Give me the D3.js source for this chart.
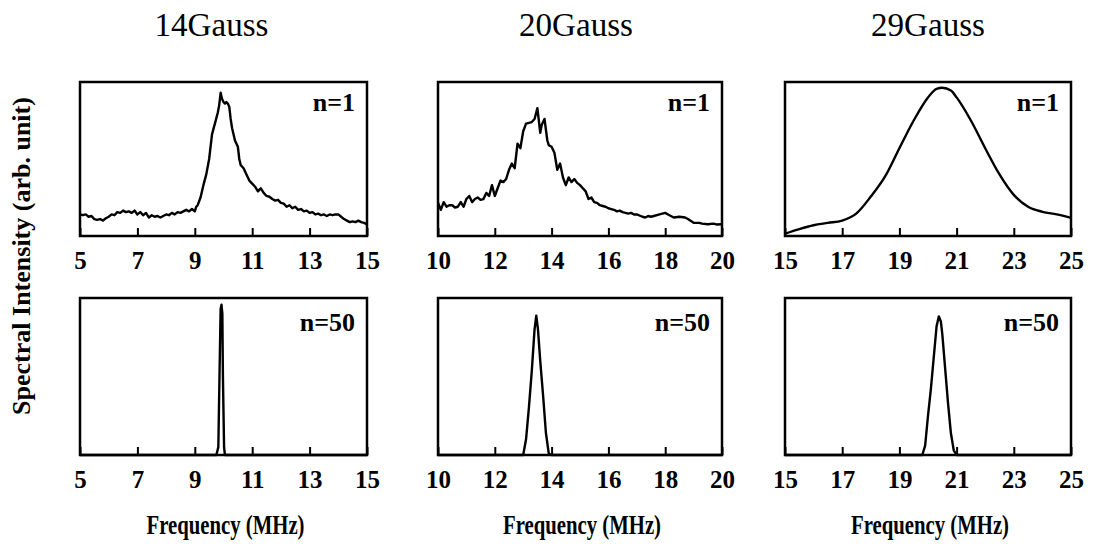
<!DOCTYPE html>
<html>
<head>
<meta charset="utf-8">
<script src="https://cdn.jsdelivr.net/npm/d3@7"></script>
<style>
  html, body { margin: 0; padding: 0; background: #fff; }
  svg { display: block; }
</style>
</head>
<body>
<svg id="chart" width="1093" height="548"></svg>
<script>
// Field labels and axis ranges
const fields = ["14Gauss", "20Gauss", "29Gauss"];
const runs = ["n=1", "n=50"];
const freqRanges = [[5, 15], [10, 20], [15, 25]];
const tickLabels = [
    [5, 7, 9, 11, 13, 15],
    [10, 12, 14, 16, 18, 20],
    [15, 17, 19, 21, 23, 25]
];

// Spectra as [frequency (MHz), intensity (arb.)]
const spec14n1 = [
    [5.0, .14], [5.1, .135], [5.2, .14], [5.3, .125], [5.4, .13], [5.5, .11], [5.6, .105], [5.7, .11],
    [5.8, .10], [5.9, .115], [6.0, .125], [6.1, .14], [6.2, .135], [6.3, .155], [6.4, .15], [6.5, .165],
    [6.6, .155], [6.7, .16], [6.8, .15], [6.9, .165], [7.0, .14], [7.1, .155], [7.2, .135], [7.3, .15],
    [7.4, .12], [7.5, .135], [7.6, .125], [7.7, .13], [7.8, .12], [7.9, .13], [8.0, .14], [8.1, .135],
    [8.2, .15], [8.3, .14], [8.4, .155], [8.5, .15], [8.6, .16], [8.7, .17], [8.8, .16], [8.9, .175],
    [9.0, .16], [9.05, .19], [9.1, .20], [9.2, .25], [9.3, .33], [9.4, .40], [9.5, .50], [9.6, .66],
    [9.7, .73], [9.8, .80], [9.85, .85], [9.9, .93], [9.95, .89], [10.0, .87], [10.05, .86], [10.1, .87],
    [10.15, .86], [10.2, .84], [10.25, .76], [10.3, .70], [10.4, .62], [10.5, .58], [10.55, .50], [10.6, .46],
    [10.7, .44], [10.8, .40], [10.9, .36], [11.0, .34], [11.1, .32], [11.2, .29], [11.3, .31], [11.4, .28],
    [11.5, .26], [11.6, .255], [11.7, .24], [11.8, .23], [11.9, .235], [12.0, .215], [12.1, .21], [12.2, .19],
    [12.3, .20], [12.4, .18], [12.5, .19], [12.6, .17], [12.7, .175], [12.8, .16], [12.9, .165], [13.0, .15],
    [13.1, .155], [13.2, .14], [13.3, .145], [13.4, .135], [13.5, .14], [13.6, .13], [13.7, .14], [13.8, .135],
    [13.9, .14], [14.0, .14], [14.1, .125], [14.2, .11], [14.3, .10], [14.4, .09], [14.5, .095], [14.6, .09],
    [14.7, .10], [14.8, .09], [14.9, .085], [15.0, .075]
];

const spec20n1 = [
    [10.0, .216], [10.1, .17], [10.2, .22], [10.3, .19], [10.4, .20], [10.5, .20], [10.6, .185], [10.7, .19],
    [10.8, .22], [10.9, .19], [11.0, .24], [11.1, .26], [11.2, .22], [11.3, .24], [11.4, .25], [11.5, .235],
    [11.6, .24], [11.7, .28], [11.8, .26], [11.9, .33], [12.0, .26], [12.1, .31], [12.2, .36], [12.3, .35],
    [12.4, .37], [12.5, .43], [12.6, .47], [12.7, .44], [12.8, .60], [12.9, .57], [13.0, .68], [13.1, .73],
    [13.2, .735], [13.3, .74], [13.4, .76], [13.5, .83], [13.6, .67], [13.65, .72], [13.75, .76], [13.85, .62],
    [13.9, .59], [14.0, .58], [14.1, .54], [14.2, .43], [14.3, .47], [14.4, .38], [14.5, .33], [14.6, .38],
    [14.7, .35], [14.8, .37], [14.9, .345], [15.0, .33], [15.1, .31], [15.2, .29], [15.3, .24], [15.4, .25],
    [15.5, .22], [15.6, .215], [15.7, .20], [15.8, .195], [15.9, .19], [16.0, .18], [16.1, .175], [16.2, .17],
    [16.3, .16], [16.4, .165], [16.5, .155], [16.6, .15], [16.7, .145], [16.8, .15], [16.9, .14], [17.0, .14],
    [17.2, .125], [17.3, .12], [17.4, .13], [17.5, .125], [17.6, .13], [17.8, .14], [18.0, .15], [18.1, .14],
    [18.2, .13], [18.3, .12], [18.5, .125], [18.7, .12], [18.8, .11], [19.0, .086], [19.2, .085], [19.3, .08],
    [19.5, .076], [19.7, .08], [19.8, .075], [20.0, .076]
];

const spec29n1 = [
    [15.0, .015], [15.5, .045], [16.0, .07], [16.5, .085], [17.0, .10], [17.5, .147], [18.0, .256],
    [18.5, .387], [19.0, .57], [19.5, .75], [20.0, .90], [20.3, .956], [20.5, .963], [20.8, .945],
    [21.0, .90], [21.5, .75], [22.0, .57], [22.5, .40], [23.0, .267], [23.5, .19], [24.0, .157],
    [24.5, .14], [25.0, .118]
];

const spec14n50 = [
    [5.0, 0], [9.75, 0], [9.82, .05], [9.86, .50], [9.9, .93], [9.93, .957], [9.96, .90],
    [9.98, .50], [10.02, .05], [10.05, 0], [15.0, 0]
];

const spec20n50 = [
    [10.0, 0], [13.0, 0], [13.1, .10], [13.2, .30], [13.3, .53], [13.4, .80], [13.46, .888],
    [13.52, .80], [13.6, .60], [13.7, .38], [13.8, .14], [13.9, .01], [14.0, 0], [20.0, 0]
];

const spec29n50 = [
    [15.0, 0], [19.8, 0], [19.9, .06], [20.0, .25], [20.1, .42], [20.2, .62], [20.3, .82],
    [20.38, .883], [20.45, .85], [20.5, .77], [20.6, .55], [20.7, .33], [20.8, .14], [20.9, .03],
    [21.0, 0], [25.0, 0]
];

const spectra = [
    [spec14n1, spec20n1, spec29n1],
    [spec14n50, spec20n50, spec29n50]
];

// Layout
const colBoxes = [{ x0: 80, x1: 367 }, { x0: 438, x1: 722 }, { x0: 785, x1: 1071 }];
const rowBoxes = [{ y0: 82, y1: 236 }, { y0: 298, y1: 455 }];
const titleShift = [-12, -4, 0];
const serif = "'Liberation Serif', 'Times New Roman', serif";

const svg = d3.select("#chart");

// Column titles (scan type is tall and narrow)
svg.selectAll(".title")
    .data(fields)
    .join("text")
    .attr("class", "title")
    .attr("x", (d, i) => (colBoxes[i].x0 + colBoxes[i].x1) / 2 + titleShift[i])
    .attr("y", 36)
    .attr("text-anchor", "middle")
    .attr("font-family", serif)
    .attr("font-size", 34)
    .attr("textLength", 114)
    .attr("lengthAdjust", "spacingAndGlyphs")
    .text(d => d);

// Shared y label
svg.append("text")
    .attr("transform", "translate(30,256) rotate(-90)")
    .attr("text-anchor", "middle")
    .attr("font-family", serif)
    .attr("font-weight", "bold")
    .attr("font-size", 26)
    .text("Spectral Intensity (arb. unit)");

// x labels
svg.selectAll(".xlabel")
    .data(fields)
    .join("text")
    .attr("class", "xlabel")
    .attr("x", (d, i) => (colBoxes[i].x0 + colBoxes[i].x1) / 2 + 2)
    .attr("y", 534)
    .attr("text-anchor", "middle")
    .attr("font-family", serif)
    .attr("font-weight", "bold")
    .attr("font-size", 27)
    .attr("textLength", 158)
    .attr("lengthAdjust", "spacingAndGlyphs")
    .text("Frequency (MHz)");

rowBoxes.forEach((rb, r) => {
    colBoxes.forEach((cb, c) => {
        const x = d3.scaleLinear().domain(freqRanges[c]).range([cb.x0, cb.x1]);
        const y = d3.scaleLinear().domain([0, 1]).range([rb.y1, rb.y0]);
        const g = svg.append("g").attr("class", `panel-${r}-${c}`);

        // Bottom axis: inward ticks, bold labels
        const axis = g.append("g")
            .attr("transform", `translate(0,${rb.y1})`)
            .call(d3.axisBottom(x)
                .tickValues(tickLabels[c])
                .tickSizeInner(-8)
                .tickSizeOuter(0)
                .tickPadding(15)
                .tickFormat(d3.format("d")));
        axis.select(".domain").remove();
        axis.selectAll(".tick line").attr("stroke", "#000").attr("stroke-width", 2);
        axis.selectAll(".tick text")
            .attr("fill", "#000")
            .attr("font-family", serif)
            .attr("font-weight", "bold")
            .attr("font-size", 25);

        // Spectrum (the 29 Gauss n=1 trace is smooth in the original)
        const line = d3.line()
            .x(d => x(d[0]))
            .y(d => y(d[1]))
            .curve(r === 0 && c === 2 ? d3.curveMonotoneX : d3.curveLinear);

        g.append("path")
            .datum(spectra[r][c])
            .attr("d", line)
            .attr("fill", "none")
            .attr("stroke", "#000")
            .attr("stroke-width", 2.4)
            .attr("stroke-linejoin", "round");

        // Frame
        g.append("rect")
            .attr("x", cb.x0)
            .attr("y", rb.y0)
            .attr("width", cb.x1 - cb.x0)
            .attr("height", rb.y1 - rb.y0)
            .attr("fill", "none")
            .attr("stroke", "#000")
            .attr("stroke-width", 2.5);

        // Run label
        g.append("text")
            .attr("x", cb.x1 - 12)
            .attr("y", rb.y0 + (r === 0 ? 29 : 33))
            .attr("text-anchor", "end")
            .attr("font-family", serif)
            .attr("font-weight", "bold")
            .attr("font-size", 26)
            .text(runs[r]);
    });
});
</script>
</body>
</html>
